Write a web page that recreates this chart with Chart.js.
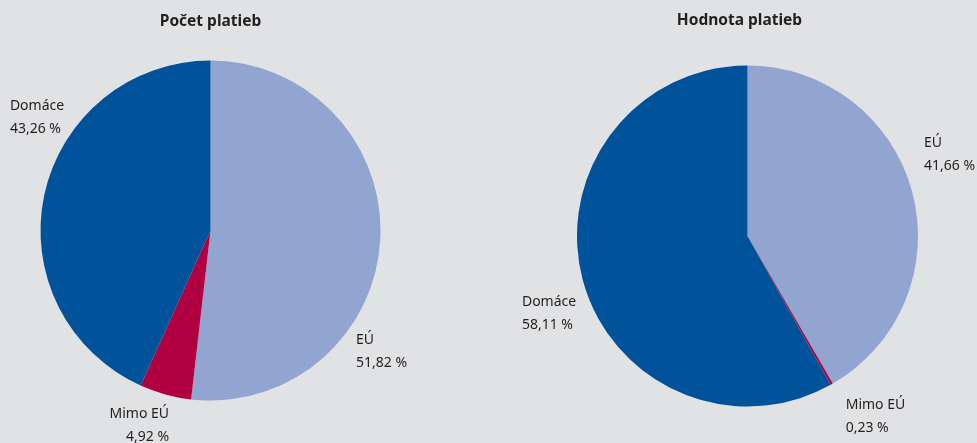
<!DOCTYPE html>
<html>
<head>
<meta charset="utf-8">
<script src="https://cdn.jsdelivr.net/npm/chart.js@4/dist/chart.umd.min.js"></script>
<style>
  html, body { margin: 0; padding: 0; background: #e1e2e4; }
  #wrap { position: relative; width: 977px; height: 443px; }
  canvas { position: absolute; left: 0; top: 0; }
</style>
</head>
<body>
<div id="wrap">
  <canvas id="c1" width="977" height="443"></canvas>
  <canvas id="c2" width="977" height="443"></canvas>
</div>
<script>
// Data
const categories = ["EÚ", "Mimo EÚ", "Domáce"];
const countValues = [51.82, 4.92, 43.26];   // Počet platieb
const valueValues = [41.66, 0.23, 58.11];   // Hodnota platieb
const chartTitles = ["Počet platieb", "Hodnota platieb"];
const colors = ["#91a5d0", "#b0003f", "#00529b"];

const FONT = "'Noto Sans', 'Open Sans', sans-serif";

function fmt(v) {
  return v.toFixed(2).replace(".", ",") + " %";
}

// Plugin: title + outside labels
const labelPlugin = {
  id: "pieLabels",
  afterDraw(chart, args, opts) {
    const ctx = chart.ctx;
    const meta = chart.getDatasetMeta(0);
    const arc0 = meta.data[0];
    const cx = arc0.x, cy = arc0.y, r = arc0.outerRadius;
    ctx.save();
    // title
    ctx.fillStyle = "#231f20";
    ctx.font = "bold 15.5px " + FONT;
    ctx.textAlign = "center";
    ctx.textBaseline = "middle";
    ctx.fillText(opts.title, cx + opts.titleDx, opts.titleY);
    // labels
    ctx.font = "14px " + FONT;
    ctx.textBaseline = "middle";
    const data = chart.data.datasets[0].data;
    chart.data.labels.forEach((lab, i) => {
      const p = opts.positions[i];
      const x = cx + p.dx * r;
      const y = cy + p.dy * r;
      ctx.textAlign = p.align;
      ctx.fillText(lab, x, y);
      ctx.fillText(fmt(data[i]), x, y + 23);
    });
    ctx.restore();
  }
};

function makeChart(id, values, title, padding, titleY, titleDx, positions) {
  return new Chart(document.getElementById(id), {
    type: "pie",
    data: {
      labels: categories,
      datasets: [{
        data: values,
        backgroundColor: colors,
        borderWidth: 0,
        hoverOffset: 0
      }]
    },
    options: {
      responsive: false,
      animation: false,
      layout: { padding: padding },
      plugins: {
        legend: { display: false },
        tooltip: { enabled: false },
        title: { display: false },
        pieLabels: { title: title, titleY: titleY, titleDx: titleDx, positions: positions }
      },
      events: []
    },
    plugins: [labelPlugin]
  });
}

makeChart("c1", countValues, chartTitles[0],
  { left: 40.5, top: 60.5, right: 977 - 380.5, bottom: 443 - 400.5 },
  22, 0,
  [
    { dx: 0.856, dy: 0.645, align: "left" },    // EÚ
    { dx: -0.244, dy: 1.08, align: "right" },   // Mimo EÚ
    { dx: -1.18, dy: -0.73, align: "left" }     // Domáce
  ]);

makeChart("c2", valueValues, chartTitles[1],
  { left: 577, top: 65.5, right: 977 - 918, bottom: 443 - 406.5 },
  21, -8,
  [
    { dx: 1.035, dy: -0.545, align: "left" },   // EÚ
    { dx: 0.576, dy: 0.99, align: "left" },     // Mimo EÚ
    { dx: -1.323, dy: 0.388, align: "left" }    // Domáce
  ]);
</script>
</body>
</html>
